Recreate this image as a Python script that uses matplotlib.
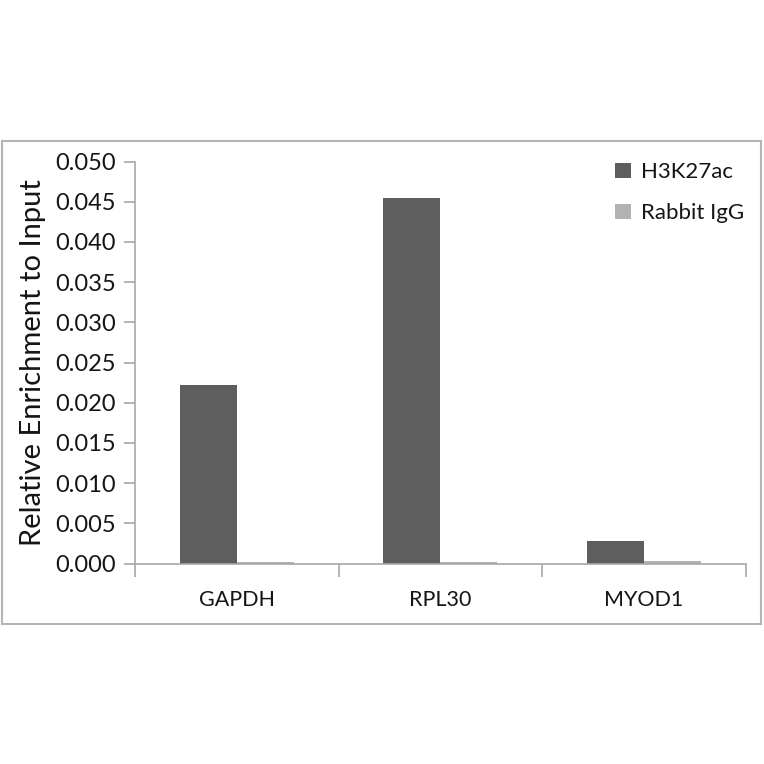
import numpy as np
import matplotlib
matplotlib.use("Agg")
import matplotlib.pyplot as plt
from matplotlib.patches import Rectangle

plt.rcParams["font.family"] = ["Lato", "DejaVu Sans"]

genes = ["GAPDH", "RPL30", "MYOD1"]
h3k27ac = [0.0222, 0.0455, 0.0028]
rabbit_igg = [0.0002, 0.0002, 0.0003]
yticks = [0.000, 0.005, 0.010, 0.015, 0.020, 0.025, 0.030, 0.035, 0.040, 0.045, 0.050]

dark = "#5e5e5e"
light = "#b2b2b2"
axcol = "#a8a8a8"
txt = "#151515"

W = 764
fig = plt.figure(figsize=(7.64, 7.64), dpi=100)

# outer chart border
fig.patches.append(Rectangle((2 / W, 1 - 624 / W), 759 / W, 483 / W,
                             transform=fig.transFigure, fill=False,
                             edgecolor="#b4b4b4", linewidth=1.5))

ax = fig.add_axes([135 / W, 1 - 563.5 / W, (745.5 - 135) / W, (563.5 - 161.5) / W])

x = np.arange(len(genes))
bw = 0.28
ax.bar(x - bw / 2, h3k27ac, bw, color=dark, label="H3K27ac")
ax.bar(x + bw / 2, rabbit_igg, bw, color=light, label="Rabbit IgG")

ax.set_xlim(-0.5, len(genes) - 0.5)
ax.set_ylim(0, 0.050)
ax.set_yticks(yticks)
ax.set_yticklabels(["%.3f" % v for v in yticks], fontsize=17, color=txt)

# category labels between boundary ticks
ax.set_xticks(np.arange(-0.5, len(genes), 1.0))
ax.set_xticklabels([])
ax.set_xticks(x, minor=True)
ax.set_xticklabels(genes, minor=True, fontsize=15.5, color=txt)
ax.tick_params(axis="x", which="minor", length=0, pad=19)
ax.tick_params(axis="x", which="major", length=9, width=1.2, color=axcol)
ax.tick_params(axis="y", length=8, width=1.2, color=axcol, pad=6)

for s in ["top", "right"]:
    ax.spines[s].set_visible(False)
for s in ["left", "bottom"]:
    ax.spines[s].set_color(axcol)
    ax.spines[s].set_linewidth(1.2)

ax.set_ylabel("Relative Enrichment to Input", fontsize=21, color=txt, labelpad=6)

leg = ax.legend(loc="upper right", bbox_to_anchor=(1.03, 1.048), frameon=False,
                fontsize=16, handlelength=0.7, handleheight=0.7,
                handletextpad=0.45, labelspacing=0.95)
for t in leg.get_texts():
    t.set_color(txt)

fig.savefig("out.png", dpi=100)
